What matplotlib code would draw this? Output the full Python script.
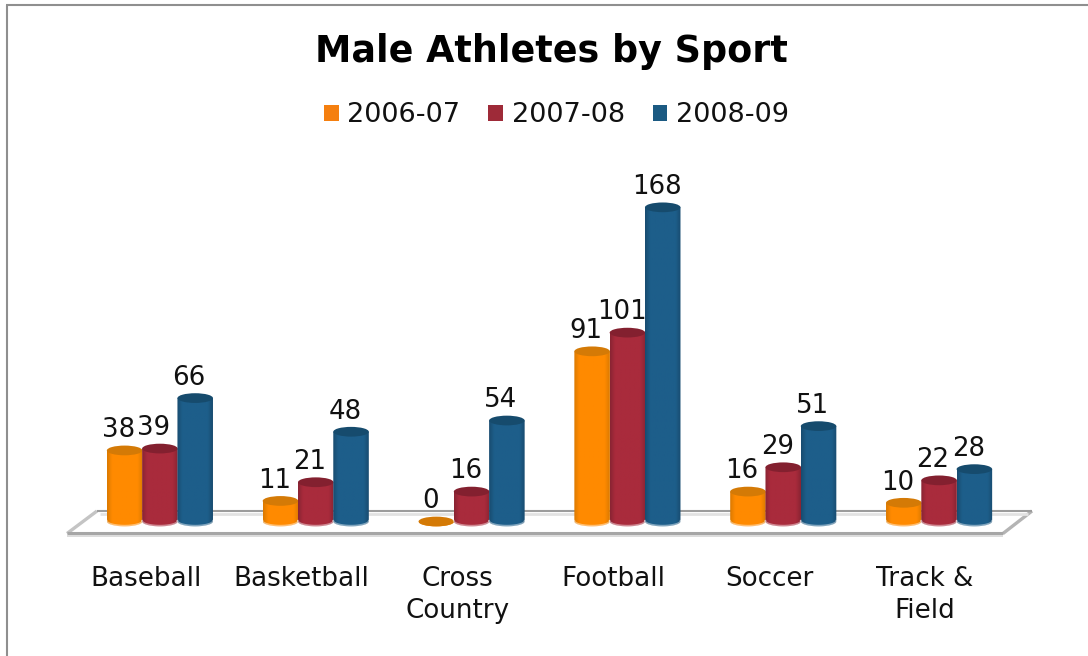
import numpy as np
import matplotlib
matplotlib.use("Agg")
import matplotlib.pyplot as plt
from matplotlib.patches import Ellipse, Patch, Polygon
from matplotlib.path import Path
from matplotlib.lines import Line2D
from matplotlib.colors import LinearSegmentedColormap
from matplotlib.transforms import ScaledTranslation

title = "Male Athletes by Sport"
categories = ["Baseball", "Basketball", "Cross\nCountry", "Football", "Soccer", "Track &\nField"]
series_names = ["2006-07", "2007-08", "2008-09"]
values_2006 = [38, 11, 0, 91, 16, 10]
values_2007 = [39, 21, 16, 101, 29, 22]
values_2008 = [66, 48, 54, 168, 51, 28]
series_values = [values_2006, values_2007, values_2008]

legend_colors = ["#F57F0F", "#9E2A38", "#1B5A82"]
edge_colors = ["#DC7A00", "#8A2433", "#184C70"]
mid_colors = ["#FF8A00", "#A92B3C", "#1D5E8A"]
top_colors = ["#D47A06", "#83202F", "#164B6D"]

W, H = 1088, 656
fig = plt.figure(figsize=(W / 100, H / 100), dpi=100, facecolor="white")
PX_LEFT, PX_RIGHT, PX_ZERO, PX_TOP = 82, 1017, 521.5, 185
ax = fig.add_axes([PX_LEFT / W, 1 - PX_ZERO / H, (PX_RIGHT - PX_LEFT) / W, (PX_ZERO - PX_TOP) / H])
ax.patch.set_visible(False)

def fx(x):
    return x / W

def fy(y):
    return 1 - y / H

def fig_line(xs, ys, color, lw):
    fig.add_artist(Line2D([fx(v) for v in xs], [fy(v) for v in ys], color=color, lw=lw,
                          solid_capstyle="butt", transform=fig.transFigure, zorder=-1))

# chart frame
fig_line([6.5, 6.5], [656, 5], "#8F8F8F", 1.5)
fig_line([6, 1088], [5, 5], "#8F8F8F", 1.5)

# floor
fig.add_artist(Polygon([(fx(a), fy(b)) for a, b in [(97, 511), (1032, 511), (1003, 533), (67, 533)]],
                       closed=True, fc="white", ec="none", transform=fig.transFigure, zorder=-2))
fig_line([97, 67], [511, 533.5], "#C4C4C4", 2.4)
fig_line([1032, 1003], [511, 533.5], "#B4B4B4", 2.4)
fig_line([97, 1032], [511, 511], "#9C9C9C", 1.5)
fig_line([100, 1028], [513.5, 513.5], "#E2E2E2", 2)
fig_line([67, 1003], [533, 533], "#A6A6A6", 2.2)
fig_line([67, 1003], [535.5, 535.5], "#D6D6D6", 1.2)

bar_w = 0.228
offsets = [-0.2265, 0.0, 0.2265]
ellipse_h = 5.2
y_max = (PX_ZERO - PX_TOP) / 1.87
grad_x = np.linspace(0, 1, 64)
for s, (vals, off) in enumerate(zip(series_values, offsets)):
    cmap = LinearSegmentedColormap.from_list(
        "c", [(0, edge_colors[s]), (0.14, mid_colors[s]), (0.86, mid_colors[s]), (1, edge_colors[s])])
    for i, v in enumerate(vals):
        xc = i + off
        x0, x1 = xc - bar_w / 2, xc + bar_w / 2
        t = np.linspace(np.pi, 2 * np.pi, 30)
        bx = xc + bar_w / 2 * np.cos(t)
        by = ellipse_h / 2 * np.sin(t)
        verts = list(zip(bx, by)) + [(x1, v), (x0, v), (x0, 0)]
        clip = Path(verts + [(x0, 0)], [Path.MOVETO] + [Path.LINETO] * (len(verts) - 1) + [Path.CLOSEPOLY])
        im = ax.imshow(grad_x[None, :], extent=(x0, x1, -ellipse_h, v + 0.01), aspect="auto",
                       cmap=cmap, zorder=3 + s, interpolation="bilinear")
        im.set_clip_box(fig.bbox)
        im.set_clip_path(clip, transform=ax.transData)
        ax.add_patch(Ellipse((xc, v), bar_w, ellipse_h, fc=top_colors[s], ec="none",
                             zorder=3 + s, clip_on=False))
        if v > 0:
            ax.plot(bx, by + 0.35, color="white", alpha=0.45, lw=1.3, zorder=3 + s, clip_on=False)
        ax.annotate(str(v), (xc, v), xytext=(-4.3, 14.5), textcoords="offset points",
                    ha="center", va="center", fontsize=18.7, color="#111111",
                    zorder=10, annotation_clip=False)

ax.set_xlim(-0.5, 5.5)
ax.set_ylim(0, y_max)
ax.set_yticks([])
ax.set_xticks(range(len(categories)))
ax.set_xticklabels(categories, fontsize=18.8, color="#111111", linespacing=1.3)
ax.tick_params(axis="x", length=0, pad=31.7)
shift = ScaledTranslation(-14 / 100, 0, fig.dpi_scale_trans)
for lab in ax.get_xticklabels():
    lab.set_transform(lab.get_transform() + shift)
for sp in ax.spines.values():
    sp.set_visible(False)

fig.text(551.5 / W, fy(51), title, ha="center", va="center", fontsize=26.3, fontweight="bold", color="black")

handles = [Patch(fc=c, ec="none", label=n) for c, n in zip(legend_colors, series_names)]
fig.legend(handles=handles, loc="center", bbox_to_anchor=(556.5 / W, fy(115.5)), ncol=3, frameon=False,
           fontsize=19.5, handlelength=0.55, handleheight=0.55, handletextpad=0.3,
           columnspacing=1.03, labelcolor="#111111", borderpad=0, borderaxespad=0)

fig.savefig("out.png", dpi=100, facecolor="white")
